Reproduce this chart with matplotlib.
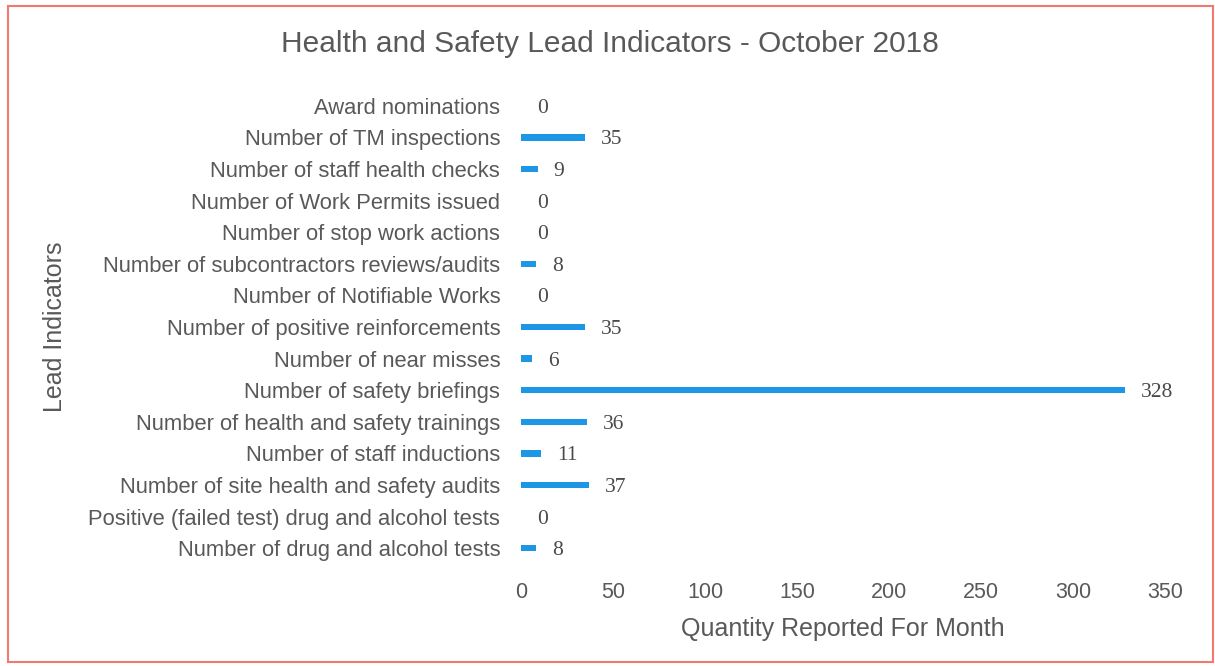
import matplotlib
matplotlib.use("Agg")
import matplotlib.pyplot as plt
from matplotlib.patches import Rectangle

categories = [
    "Award nominations",
    "Number of TM inspections",
    "Number of staff health checks",
    "Number of Work Permits issued",
    "Number of stop work actions",
    "Number of subcontractors reviews/audits",
    "Number of Notifiable Works",
    "Number of positive reinforcements",
    "Number of near misses",
    "Number of safety briefings",
    "Number of health and safety trainings",
    "Number of staff inductions",
    "Number of site health and safety audits",
    "Positive (failed test) drug and alcohol tests",
    "Number of drug and alcohol tests",
]
values = [0, 35, 9, 0, 0, 8, 0, 35, 6, 328, 36, 11, 37, 0, 8]
xticks = [0, 50, 100, 150, 200, 250, 300, 350]

gray = "#595959"
bar_color = "#1E96E6"

fig = plt.figure(figsize=(12.15, 6.66), dpi=100)
fig.patches.append(Rectangle((8/1215, 4/666), 1205/1215, 656/666, transform=fig.transFigure,
                             fill=False, edgecolor="#F07A6E", linewidth=1.5))
ax = fig.add_axes([521/1215, 1-564/666, 644/1215, 474/666])

y = list(range(len(categories)))
ax.barh(y, values, height=0.2, color=bar_color)
ax.set_ylim(len(categories)-0.5, -0.5)
ax.set_xlim(0, 350)
ax.set_xticks(xticks)
ax.set_yticks(y)
ax.set_yticklabels(categories, fontsize=15.8, color=gray, family="Liberation Sans")
for lab in ax.get_xticklabels():
    lab.set_fontsize(15.5)
    lab.set_color(gray)
    lab.set_family("Liberation Sans")
ax.tick_params(axis="both", length=0)
ax.tick_params(axis="x", pad=13)
ax.tick_params(axis="y", pad=15)
for s in ax.spines.values():
    s.set_visible(False)

for yi, v in zip(y, values):
    ax.annotate(str(v), (v, yi), xytext=(11.5, 0), textcoords="offset points",
                va="center_baseline", ha="left", fontsize=15.5, color="#4a4a4a", family="Liberation Serif")

ax.set_xlabel("Quantity Reported For Month", fontsize=18, color=gray, family="Liberation Sans", labelpad=10)
fig.text(55/1215, 1-327/666, "Lead Indicators", rotation=90, ha="center", va="center",
         fontsize=18, color=gray, family="Liberation Sans")
fig.text(610/1215, 1-44/666, "Health and Safety Lead Indicators - October 2018", ha="center", va="center",
         fontsize=21.5, color=gray, family="Liberation Sans")

fig.savefig("out.png", dpi=100)
